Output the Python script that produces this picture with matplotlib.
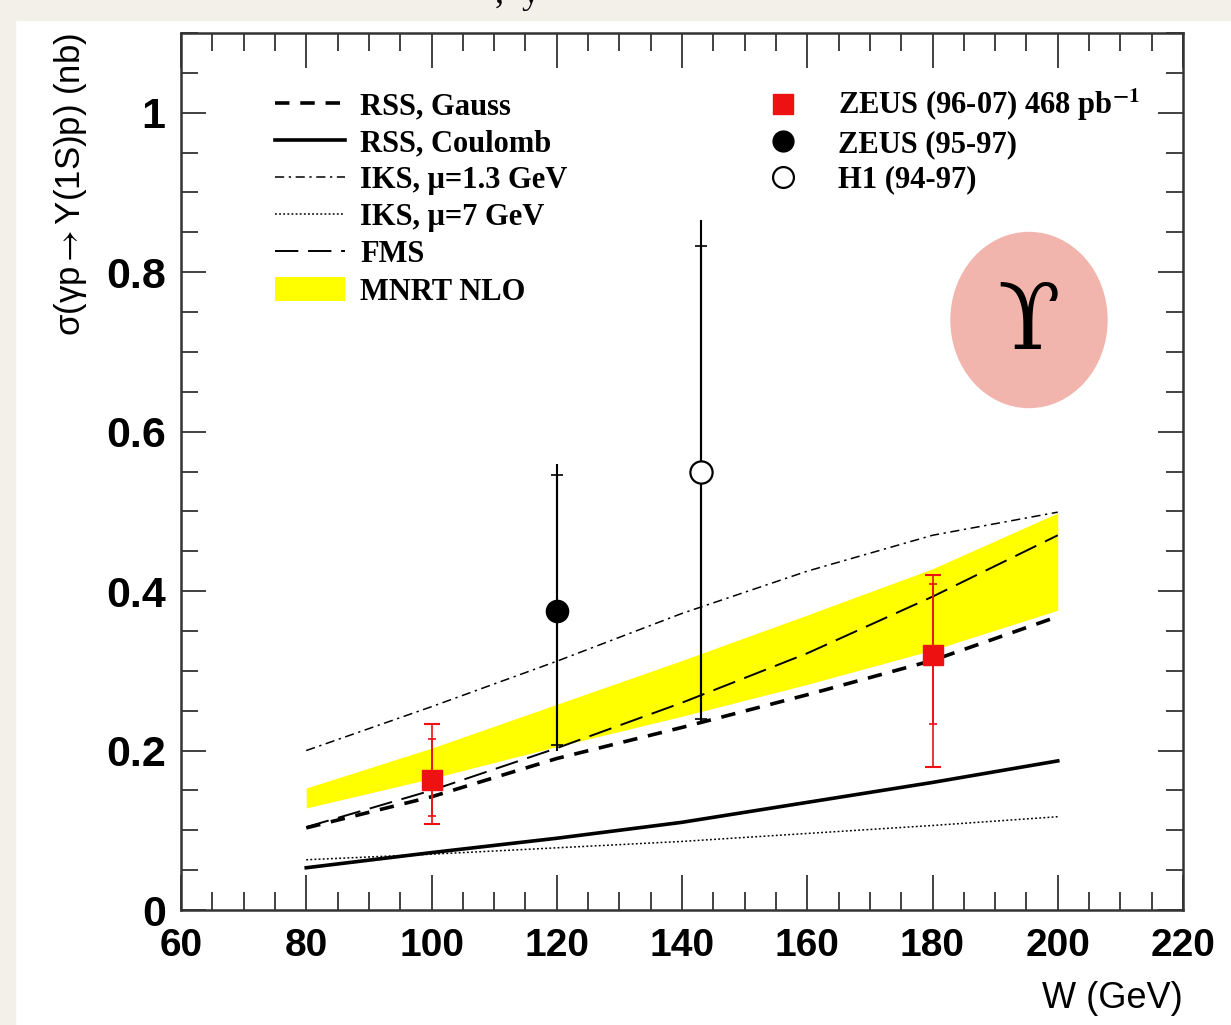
import matplotlib
matplotlib.use("Agg")
import matplotlib.pyplot as plt
from matplotlib.patches import Ellipse, Rectangle, Patch
from matplotlib.lines import Line2D
from matplotlib.ticker import MultipleLocator

plt.rcParams['mathtext.fontset'] = 'stix'

# theory curves, W in GeV, sigma in nb
W = [80, 100, 120, 140, 160, 180, 200]
mnrt_lo = [0.128, 0.165, 0.205, 0.243, 0.283, 0.326, 0.376]
mnrt_hi = [0.153, 0.203, 0.258, 0.313, 0.370, 0.428, 0.498]
fms = [0.104, 0.150, 0.203, 0.260, 0.322, 0.393, 0.470]
rss_gauss = [0.103, 0.142, 0.190, 0.229, 0.270, 0.313, 0.368]
rss_coulomb = [0.053, 0.072, 0.090, 0.110, 0.135, 0.160, 0.187]
iks_13 = [0.200, 0.255, 0.312, 0.372, 0.425, 0.470, 0.499]
iks_7 = [0.063, 0.070, 0.078, 0.086, 0.096, 0.106, 0.117]

# ZEUS 96-07
zeus_w = [100, 180]
zeus_y = [0.163, 0.320]
zeus_tot_lo = [0.108, 0.179]
zeus_tot_hi = [0.233, 0.420]
zeus_stat_lo = [0.118, 0.233]
zeus_stat_hi = [0.214, 0.409]

# ZEUS 95-97
zeus_old_w = [120]
zeus_old_y = [0.375]
zeus_old_tot = [0.200, 0.560]
zeus_old_stat = [0.207, 0.545]

# H1 94-97
h1_w = [143]
h1_y = [0.550]
h1_tot = [0.234, 0.865]
h1_stat = [0.240, 0.833]

fig = plt.figure(figsize=(12.31, 10.25), dpi=100)
fig.patch.set_facecolor('white')
beige = '#F3F0EA'
fig.add_artist(Rectangle((0, 0), 15 / 1231, 1, transform=fig.transFigure, color=beige, zorder=0))
fig.add_artist(Rectangle((0, 1 - 20 / 1025), 1, 20 / 1025, transform=fig.transFigure, color=beige, zorder=0))
fig.text(495 / 1231, 1 - 3 / 1025, ',  y', fontsize=26, family='Liberation Serif', va='baseline', ha='left')

ax = fig.add_axes([181 / 1231, 115 / 1025, 1002 / 1231, 877 / 1025])
ax.set_xlim(60, 220)
ax.set_ylim(0, 1.1)

ax.fill_between(W, mnrt_lo, mnrt_hi, color='#FFFF00', lw=0, zorder=1)
ax.plot(W, rss_gauss, color='black', lw=2.6, dashes=(4, 3), zorder=2)
ax.plot(W, rss_coulomb, color='black', lw=2.6, zorder=2)
ax.plot(W, iks_13, color='black', lw=1.1, dashes=(6, 3, 1.5, 3), zorder=2)
ax.plot(W, iks_7, color='black', lw=1.1, dashes=(1.2, 1.5), zorder=2)
ax.plot(W, fms, color='black', lw=1.4, dashes=(12, 5), zorder=2)

red = '#EE1111'
for w, y, tl, th, sl, sh in zip(zeus_w, zeus_y, zeus_tot_lo, zeus_tot_hi, zeus_stat_lo, zeus_stat_hi):
    ax.errorbar([w], [y], yerr=[[y - tl], [th - y]], fmt='none', ecolor=red, elinewidth=1.2,
                capsize=6, capthick=1.5, zorder=3)
    ax.errorbar([w], [y], yerr=[[y - sl], [sh - y]], fmt='none', ecolor=red, elinewidth=1.2,
                capsize=3, capthick=1.2, zorder=3)
ax.plot(zeus_w, zeus_y, 's', color=red, ms=15, zorder=4)

ax.errorbar(zeus_old_w, zeus_old_y,
            yerr=[[zeus_old_y[0] - zeus_old_tot[0]], [zeus_old_tot[1] - zeus_old_y[0]]],
            fmt='none', ecolor='black', elinewidth=1.5, zorder=3)
ax.errorbar(zeus_old_w, zeus_old_y,
            yerr=[[zeus_old_y[0] - zeus_old_stat[0]], [zeus_old_stat[1] - zeus_old_y[0]]],
            fmt='none', ecolor='black', elinewidth=1.5, capsize=4, capthick=1.2, zorder=3)
ax.plot(zeus_old_w, zeus_old_y, 'o', color='black', ms=16, zorder=4)

ax.errorbar(h1_w, h1_y, yerr=[[h1_y[0] - h1_tot[0]], [h1_tot[1] - h1_y[0]]],
            fmt='none', ecolor='black', elinewidth=1.5, zorder=3)
ax.errorbar(h1_w, h1_y, yerr=[[h1_y[0] - h1_stat[0]], [h1_stat[1] - h1_y[0]]],
            fmt='none', ecolor='black', elinewidth=1.5, capsize=4, capthick=1.2, zorder=3)
ax.plot(h1_w, h1_y, 'o', mfc='white', mec='black', mew=1.6, ms=16, zorder=4)

# axes style (ROOT like)
ax.xaxis.set_major_locator(MultipleLocator(20))
ax.xaxis.set_minor_locator(MultipleLocator(5))
ax.yaxis.set_minor_locator(MultipleLocator(0.05))
ax.set_yticks([0, 0.2, 0.4, 0.6, 0.8, 1.0])
ax.set_yticklabels(['0', '0.2', '0.4', '0.6', '0.8', '1'])
ax.tick_params(axis='both', which='both', direction='in', top=True, right=True,
               color='#333333', width=1.3)
ax.tick_params(axis='x', which='major', length=25, pad=13)
ax.tick_params(axis='x', which='minor', length=13)
ax.tick_params(axis='y', which='major', length=18, pad=11)
ax.tick_params(axis='y', which='minor', length=12)
for lab in ax.get_xticklabels():
    lab.set_fontfamily('Liberation Sans')
    lab.set_fontweight('bold')
    lab.set_fontsize(28)
for lab in ax.get_yticklabels():
    lab.set_fontfamily('Liberation Sans')
    lab.set_fontweight('bold')
    lab.set_fontsize(31)
for s in ax.spines.values():
    s.set_linewidth(1.8)
    s.set_color('#333333')

ax.set_xlabel('W (GeV)', loc='right', fontsize=26, family='Liberation Sans', labelpad=12)
ax.set_ylabel(r'σ(γp$\rightarrow$Υ(1S)p) (nb)', loc='top', fontsize=25,
              family='Liberation Sans', labelpad=12)

# legends
serif = {'family': 'Liberation Serif', 'weight': 'bold', 'size': 22}
h_lines = [
    Line2D([], [], color='black', lw=2.6, dashes=(4, 3)),
    Line2D([], [], color='black', lw=2.6),
    Line2D([], [], color='black', lw=1.1, dashes=(6, 3, 1.5, 3)),
    Line2D([], [], color='black', lw=1.1, dashes=(1.2, 1.5)),
    Line2D([], [], color='black', lw=1.4, dashes=(12, 5)),
    Patch(facecolor='#FFFF00', edgecolor='none'),
]
l_lines = ['RSS, Gauss', 'RSS, Coulomb', 'IKS, μ=1.3 GeV', 'IKS, μ=7 GeV', 'FMS', 'MNRT NLO']
leg1 = ax.legend(h_lines, l_lines, loc='upper left', bbox_to_anchor=(0.094, 0.933), frameon=False,
                 prop=serif, handlelength=2.3, handleheight=0.8, handletextpad=0.49,
                 labelspacing=0.255, borderpad=0, borderaxespad=0)
ax.add_artist(leg1)

h_pts = [
    Line2D([], [], ls='none', marker='s', color=red, ms=15),
    Line2D([], [], ls='none', marker='o', color='black', ms=15),
    Line2D([], [], ls='none', marker='o', mfc='white', mec='black', mew=1.6, ms=15),
]
l_pts = [r'ZEUS (96-07) 468 pb$^{\mathbf{-1}}$', 'ZEUS (95-97)', 'H1 (94-97)']
ax.legend(h_pts, l_pts, loc='upper left', bbox_to_anchor=(0.586, 0.939), frameon=False,
          prop=serif, handlelength=1.0, handletextpad=1.29, labelspacing=0.21,
          borderpad=0, borderaxespad=0)

# Upsilon badge
fig.add_artist(Ellipse((1029 / 1231, 1 - 320 / 1025), 156 / 1231, 175 / 1025,
                       transform=fig.transFigure, color='#F2B5AE', zorder=5))
fig.text(1029 / 1231, 1 - 324 / 1025, 'ϒ', fontsize=66, family='DejaVu Serif',
         ha='center', va='center', zorder=6)

fig.savefig('out.png', dpi=100, facecolor=fig.get_facecolor())
